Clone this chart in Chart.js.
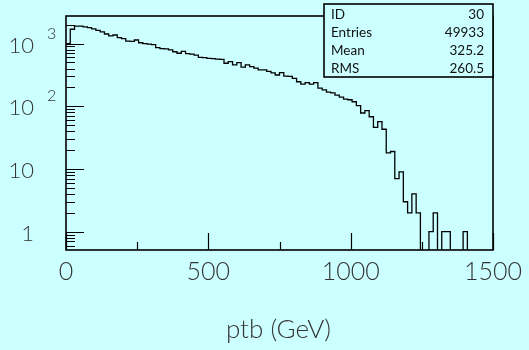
<!DOCTYPE html>
<html>
<head>
<meta charset="utf-8">
<script src="https://cdn.jsdelivr.net/npm/chart.js@4.4.0/dist/chart.umd.min.js"></script>
<style>
    html, body { margin: 0; padding: 0; background: #ccffff; }
    .chart { width: 529px; height: 350px; }
</style>
</head>
<body>
<div class="chart"><canvas id="chart" width="529" height="350"></canvas></div>
<script>
const binWidth = 15;
const binCounts = [
    1000, 1690, 1900, 1900, 1850, 1800, 1720, 1620, 1530, 1420,
    1330, 1370, 1240, 1200, 1090, 1080, 1140, 1030, 1000, 980,
    960, 860, 830, 820, 790, 740, 700, 750, 690, 680,
    655, 600, 595, 580, 575, 565, 560, 485, 515, 457,
    495, 420, 457, 430, 405, 380, 380, 360, 340, 315,
    345, 303, 300, 278, 246, 225, 238, 225, 238, 194,
    182, 168, 163, 150, 140, 130, 127, 118, 102, 78,
    85, 68, 46, 57, 43, 18, 19, 7, 9, 3,
    2, 4, 2, 0, 0, 1, 2, 0, 1, 1,
    0, 0, 0, 1, 0, 0, 0, 0, 0, 0,
];
const xTicks = [0, 500, 1000, 1500];
const xMinorTicks = [250, 750, 1250];
const yTicks = [1, 10, 100, 1000];
const yTickLabels = [['1', ''], ['10', ''], ['10', '2'], ['10', '3']];
const statsLabels = ['ID', 'Entries', 'Mean', 'RMS'];
const statsValues = ['30', '49933', '325.2', '260.5'];
const xTitle = 'ptb (GeV)';

(() => {
    const bg = '#ccffff',
          yMin = 0.51,
          yMax = 2750,
          font = '"Lato", "DejaVu Sans", sans-serif';

    // zero bins go below the axis and get clipped, like PAW does
    const points = binCounts.map((c, i) => ({ x: i * binWidth, y: c > 0 ? c : 0.1 }));
    points.push({ x: binCounts.length * binWidth, y: points[points.length - 1].y });

    const yMinor = [];
    for (let e = -1; e <= 3; e++) {
        for (let s = 2; s <= 9; s++) {
            const v = s * Math.pow(10, e);
            if (v > yMin && v < yMax) yMinor.push(v);
        }
    }

    const pawPlugin = {
        id: 'paw',
        beforeDraw(chart) {
            const { ctx } = chart;
            ctx.save();
            ctx.fillStyle = bg;
            ctx.fillRect(0, 0, chart.width, chart.height);
            ctx.restore();
        },
        afterDraw(chart) {
            const { ctx, chartArea: a, scales: { x, y } } = chart;
            ctx.save();
            ctx.strokeStyle = '#000';
            ctx.lineWidth = 1.6;
            ctx.strokeRect(a.left, a.top, a.right - a.left, a.bottom - a.top);

            ctx.lineWidth = 1.2;
            ctx.beginPath();
            yTicks.forEach((v) => {
                const py = Math.round(y.getPixelForValue(v)) + 0.5;
                ctx.moveTo(a.left, py);
                ctx.lineTo(a.left + 18, py);
            });
            yMinor.forEach((v) => {
                const py = Math.round(y.getPixelForValue(v)) + 0.5;
                ctx.moveTo(a.left, py);
                ctx.lineTo(a.left + 9, py);
            });
            xTicks.forEach((v) => {
                const px = Math.round(x.getPixelForValue(v)) + 0.5;
                ctx.moveTo(px, a.bottom);
                ctx.lineTo(px, a.bottom - 17);
            });
            xMinorTicks.forEach((v) => {
                const px = Math.round(x.getPixelForValue(v)) + 0.5;
                ctx.moveTo(px, a.bottom);
                ctx.lineTo(px, a.bottom - 8);
            });
            ctx.stroke();

            ctx.fillStyle = '#333';
            ctx.font = `300 25px ${font}`;
            ctx.textAlign = 'center';
            ctx.textBaseline = 'alphabetic';
            xTicks.forEach((v) => {
                ctx.fillText(String(v), x.getPixelForValue(v), a.bottom + 30);
            });

            yTicks.forEach((v, i) => {
                const py = y.getPixelForValue(v);
                const [base, sup] = yTickLabels[i];
                ctx.font = `300 22px ${font}`;
                ctx.textAlign = 'right';
                ctx.textBaseline = 'middle';
                ctx.fillText(base, 34, py + 2);
                if (sup) {
                    ctx.font = `300 16px ${font}`;
                    ctx.textAlign = 'left';
                    ctx.fillText(sup, 47, py - 10);
                }
            });

            ctx.font = `300 26px ${font}`;
            ctx.textAlign = 'center';
            ctx.textBaseline = 'alphabetic';
            ctx.fillText(xTitle, (a.left + a.right) / 2 - 1, 338);

            // statistics box
            const bx = 324, by = 4, bw = a.right - bx, bh = 73;
            ctx.fillStyle = bg;
            ctx.fillRect(bx, by, bw, bh);
            ctx.lineWidth = 1.6;
            ctx.strokeRect(bx, by, bw, bh);
            ctx.fillStyle = '#111';
            ctx.font = `13.5px ${font}`;
            ctx.textBaseline = 'middle';
            statsLabels.forEach((label, i) => {
                const ty = by + 11 + i * 17.8;
                ctx.textAlign = 'left';
                ctx.fillText(label, bx + 7, ty);
                ctx.textAlign = 'right';
                ctx.fillText(statsValues[i], bx + bw - 9, ty);
            });
            ctx.restore();
        },
    };

    new Chart(document.getElementById('chart'), {
        type: 'line',
        data: {
            datasets: [{
                data: points,
                borderColor: '#000',
                borderWidth: 1.3,
                stepped: true,
                pointRadius: 0,
                fill: false,
                tension: 0,
            }],
        },
        options: {
            responsive: false,
            animation: false,
            layout: { padding: { left: 66, right: 36, top: 16, bottom: 100 } },
            plugins: { legend: { display: false }, tooltip: { enabled: false } },
            scales: {
                x: { type: 'linear', min: 0, max: 1500, display: false },
                y: { type: 'logarithmic', min: yMin, max: yMax, display: false },
            },
        },
        plugins: [pawPlugin],
    });
})();
</script>
</body>
</html>
